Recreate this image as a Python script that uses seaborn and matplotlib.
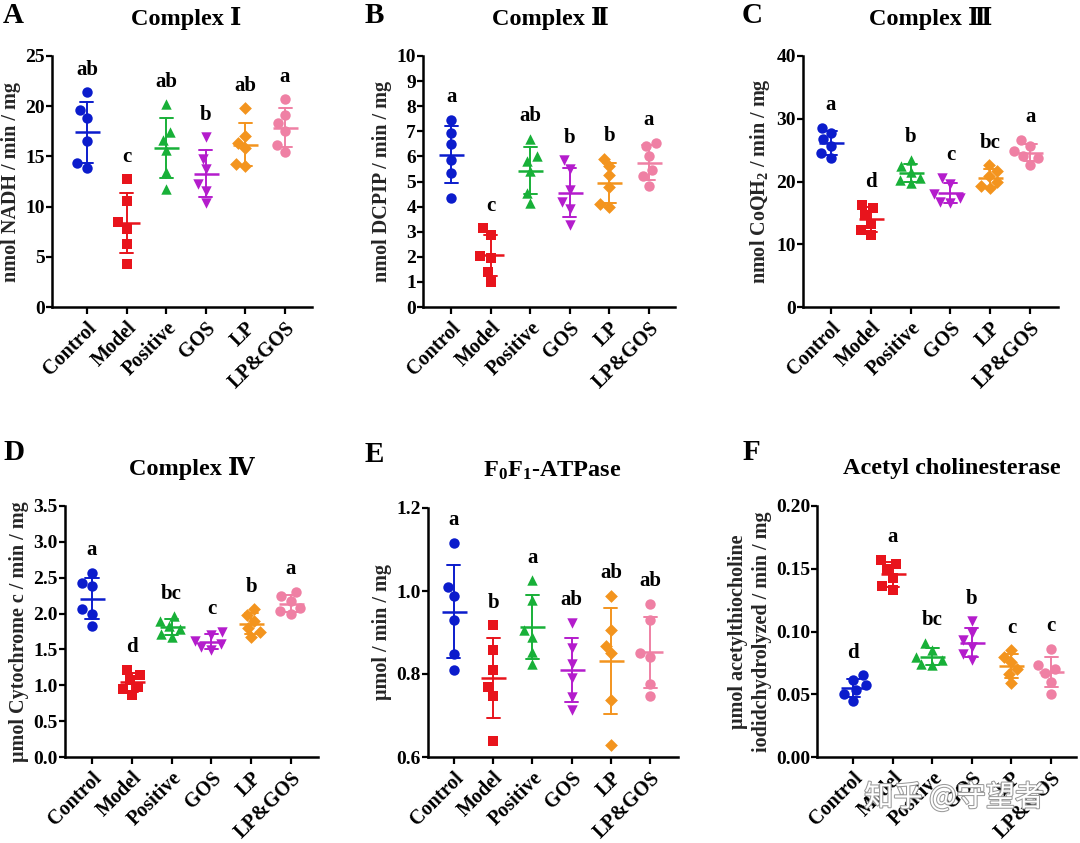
import numpy as np
import pandas as pd
import matplotlib
matplotlib.use("Agg")
import matplotlib.pyplot as plt
import matplotlib.patheffects as pe
import matplotlib.transforms as mtransforms
import seaborn as sns

groups = ["Control", "Model", "Positive", "GOS", "LP", "LP&GOS"]
colors = ["#0b1ccc", "#e8141c", "#18b038", "#b41ccc", "#f3941e", "#ef80a4"]
markers = ["o", "s", "^", "v", "D", "o"]

# Panel A: Complex I (nmol NADH / min / mg)
complex1 = [
    [21.4, 19.6, 18.8, 16.5, 14.3, 13.8],
    [12.7, 10.6, 8.5, 7.8, 6.3, 4.3],
    [20.2, 17.4, 16.6, 15.6, 13.4, 11.8],
    [16.9, 14.7, 13.7, 12.3, 11.6, 10.4],
    [19.8, 17.0, 16.3, 15.8, 14.2, 14.0],
    [20.7, 19.1, 18.3, 17.5, 16.1, 15.4],
]
complex1_sig = ["ab", "c", "ab", "b", "ab", "a"]

# Panel B: Complex II (nmol DCPIP / min / mg)
complex2 = [
    [7.45, 6.92, 6.5, 5.86, 5.33, 4.36],
    [3.14, 2.85, 2.02, 1.95, 1.41, 1.01],
    [6.7, 6.0, 5.8, 5.4, 4.55, 4.15],
    [5.85, 5.5, 4.65, 4.2, 3.9, 3.25],
    [5.9, 5.6, 5.24, 4.8, 4.1, 4.0],
    [6.55, 6.42, 6.02, 5.44, 5.2, 4.84],
]
complex2_sig = ["a", "c", "ab", "b", "b", "a"]

# Panel C: Complex III (nmol CoQH2 / min / mg)
complex3 = [
    [28.6, 27.7, 26.7, 25.6, 24.5, 23.7],
    [16.3, 15.8, 14.7, 13.3, 12.2, 11.5],
    [23.5, 22.4, 21.5, 20.6, 20.2, 19.8],
    [20.6, 19.6, 18.0, 17.4, 16.8, 16.6],
    [22.6, 21.7, 20.8, 20.0, 19.3, 19.0],
    [26.6, 25.7, 24.8, 24.0, 23.8, 22.7],
]
complex3_sig = ["a", "d", "b", "c", "bc", "a"]

# Panel D: Complex IV (umol Cytochrome c / min / mg)
complex4 = [
    [2.57, 2.43, 2.38, 2.06, 2.0, 1.82],
    [1.22, 1.15, 1.08, 0.98, 0.95, 0.86],
    [1.96, 1.90, 1.83, 1.78, 1.72, 1.68],
    [1.75, 1.70, 1.62, 1.57, 1.53, 1.49],
    [2.06, 1.98, 1.90, 1.80, 1.74, 1.68],
    [2.30, 2.24, 2.17, 2.08, 2.03, 2.00],
]
complex4_sig = ["a", "d", "bc", "c", "b", "a"]

# Panel E: F0F1-ATPase (umol / min / mg)
atpase = [
    [1.116, 1.01, 0.989, 0.929, 0.848, 0.81],
    [0.917, 0.859, 0.81, 0.769, 0.747, 0.638],
    [1.026, 0.979, 0.905, 0.889, 0.853, 0.823],
    [0.924, 0.862, 0.823, 0.79, 0.745, 0.714],
    [0.989, 0.907, 0.868, 0.85, 0.738, 0.63],
    [0.969, 0.929, 0.85, 0.84, 0.777, 0.747],
]
atpase_sig = ["a", "b", "a", "ab", "ab", "ab"]

# Panel F: Acetyl cholinesterase
ache = [
    [0.065, 0.061, 0.057, 0.053, 0.050, 0.045],
    [0.157, 0.154, 0.150, 0.143, 0.136, 0.133],
    [0.091, 0.085, 0.080, 0.077, 0.074, 0.073],
    [0.108, 0.099, 0.093, 0.088, 0.082, 0.077],
    [0.085, 0.080, 0.076, 0.070, 0.066, 0.059],
    [0.086, 0.073, 0.070, 0.067, 0.060, 0.050],
]
ache_sig = ["d", "a", "bc", "b", "c", "c"]

sns.set_theme(style="ticks")
plt.rcParams["font.family"] = ["Liberation Serif", "DejaVu Serif", "Noto Sans CJK SC"]
plt.rcParams["font.weight"] = "bold"
plt.rcParams["axes.labelweight"] = "bold"
plt.rcParams["mathtext.fontset"] = "custom"
plt.rcParams["mathtext.rm"] = "Liberation Serif:bold"
plt.rcParams["mathtext.it"] = "Liberation Serif:bold"
plt.rcParams["mathtext.bf"] = "Liberation Serif:bold"
plt.rcParams["mathtext.default"] = "regular"

W, H = 1080, 843
fig = plt.figure(figsize=(W / 100, H / 100), dpi=100)
fig.patch.set_facecolor("white")

panels = [
    dict(vals=complex1, sig=complex1_sig, title="Complex Ⅰ", letter="A",
         ylabel="nmol NADH / min / mg", ylim=(0, 25), yticks=np.arange(0, 26, 5), fmt="{:.0f}",
         box=(52, 56, 312, 307), xlim=(-0.88, 5.68), lpos=(3, 2)),
    dict(vals=complex2, sig=complex2_sig, title="Complex Ⅱ", letter="B",
         ylabel="nmol DCPIP / min / mg", ylim=(0, 10), yticks=np.arange(0, 11, 1), fmt="{:.0f}",
         box=(423, 56, 675, 307), xlim=(-0.71, 5.66), lpos=(365, 2)),
    dict(vals=complex3, sig=complex3_sig, title="Complex Ⅲ", letter="C",
         ylabel="nmol CoQH$_2$ / min / mg", ylim=(0, 40), yticks=np.arange(0, 41, 10), fmt="{:.0f}",
         box=(803, 56, 1058, 307), xlim=(-0.7, 5.7), lpos=(742, 2)),
    dict(vals=complex4, sig=complex4_sig, title="Complex Ⅳ", letter="D",
         ylabel="μmol Cytochrome c / min / mg", ylim=(0, 3.5), yticks=np.arange(0, 3.51, 0.5), fmt="{:.1f}",
         box=(65, 506, 318, 757), xlim=(-0.68, 5.68), lpos=(3, 439)),
    dict(vals=atpase, sig=atpase_sig, title="F$_0$F$_1$-ATPase", letter="E",
         ylabel="μmol / min / mg", ylim=(0.6, 1.2), yticks=np.arange(0.6, 1.21, 0.2), fmt="{:.1f}",
         box=(428, 508, 678, 757), xlim=(-0.66, 5.71), lpos=(365, 441)),
    dict(vals=ache, sig=ache_sig, title="Acetyl cholinesterase", letter="F",
         ylabel="μmol acetylthiocholine\niodidchydrolyzed / min / mg", ylim=(0, 0.20),
         yticks=np.arange(0, 0.201, 0.05), fmt="{:.2f}",
         box=(817, 506, 1076, 757), xlim=(-0.91, 5.63), lpos=(743, 439)),
]

for p in panels:
    x0, y0, x1, y1 = p["box"]
    ax = fig.add_axes([x0 / W, 1 - y1 / H, (x1 - x0) / W, (y1 - y0) / H])
    rows = []
    for g, v in zip(groups, p["vals"]):
        for val in v:
            rows.append((g, val))
    df = pd.DataFrame(rows, columns=["group", "value"])

    for g, c, m in zip(groups, colors, markers):
        sub = df[df["group"] == g]
        sz = 6.5 if m == "D" else 7.5
        sns.swarmplot(data=sub, x="group", y="value", order=groups, color=c,
                      marker=m, size=sz, linewidth=0, ax=ax, zorder=3)

    sns.pointplot(data=df, x="group", y="value", order=groups, hue="group",
                  hue_order=groups, palette=colors, errorbar="sd", capsize=0.33,
                  linestyle="none", marker="_", markersize=18, markeredgewidth=1.8,
                  err_kws={"linewidth": 1.4}, legend=False, ax=ax, zorder=4)

    ax.set_xlim(*p["xlim"])
    ax.set_ylim(*p["ylim"])
    ax.set_yticks(p["yticks"])
    ax.set_yticklabels([p["fmt"].format(t) for t in p["yticks"]], fontsize=14, fontweight="bold")
    ax.set_xticks(range(len(groups)))
    ax.set_xticklabels(groups, rotation=45, ha="right", rotation_mode="anchor",
                       fontsize=14.5, fontweight="bold")
    ax.set_xlabel("")
    ax.set_ylabel(p["ylabel"], fontsize=14.5, fontweight="bold", labelpad=3,
                  linespacing=1.25)
    for s in ["top", "right"]:
        ax.spines[s].set_visible(False)
    for s in ["left", "bottom"]:
        ax.spines[s].set_linewidth(1.8)
        ax.spines[s].set_color("black")
    ax.tick_params(axis="y", direction="out", length=4, width=1.6, pad=1, colors="black")
    ax.tick_params(axis="x", direction="out", length=5, width=1.6, pad=3, colors="black")
    ax.set_facecolor("white")

    yr = p["ylim"][1] - p["ylim"][0]
    for i, (v, s) in enumerate(zip(p["vals"], p["sig"])):
        ax.text(i, max(v) + 0.09 * yr, s, ha="center", va="center",
                fontsize=15, fontweight="bold", color="black")

    trans = mtransforms.blended_transform_factory(ax.transData, ax.transAxes)
    ax.text(2.5, 1.15, p["title"], transform=trans, ha="center", va="center",
            fontsize=17.5, fontweight="bold", color="black")

    fig.text(p["lpos"][0] / W, 1 - p["lpos"][1] / H, p["letter"], ha="left", va="top",
             fontsize=21, fontweight="bold", color="black")

fig.text(954 / W, 1 - 798 / H, "知乎 @守望者", ha="center", va="center", fontsize=21,
         family=["Noto Sans CJK SC", "DejaVu Sans"], color="white", fontweight="normal",
         path_effects=[pe.withStroke(linewidth=1.5, foreground="#9a9a9a")], zorder=10)

fig.savefig("out.png", dpi=100, facecolor="white")
